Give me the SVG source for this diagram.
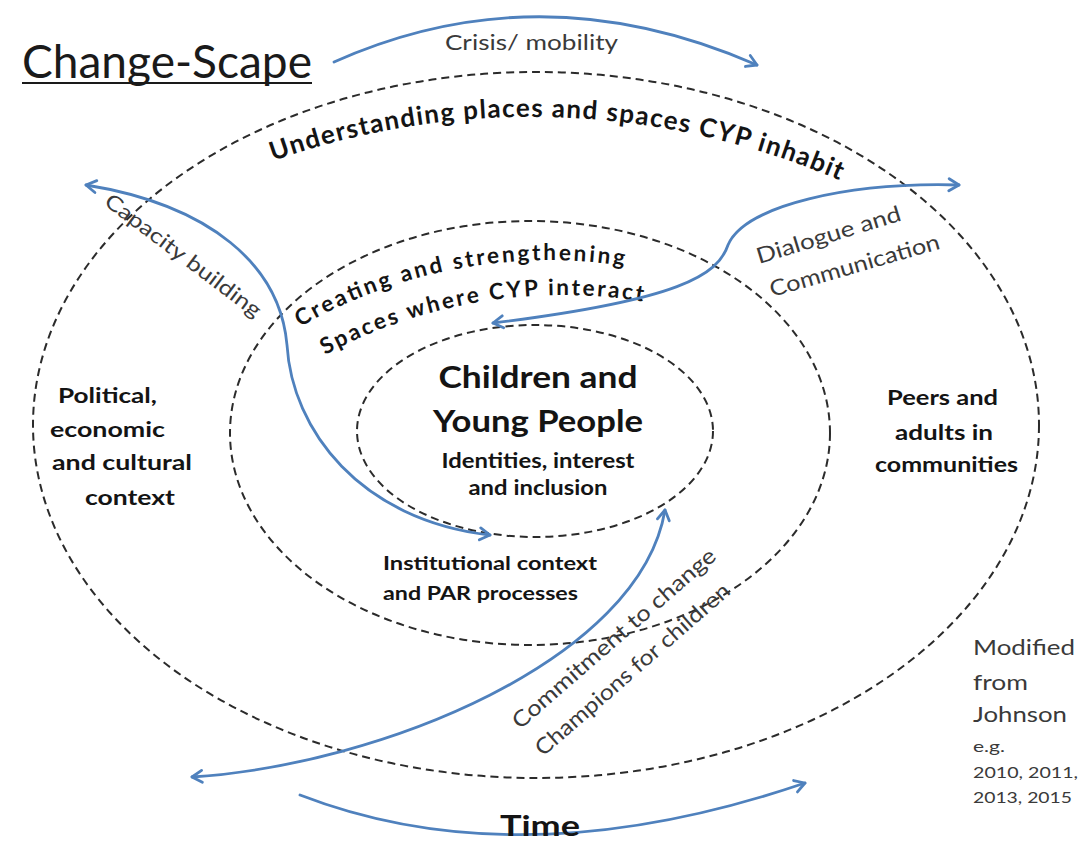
<svg xmlns="http://www.w3.org/2000/svg" width="1079" height="841" viewBox="0 0 1079 841">
<defs>
<style>
.ring{fill:none;stroke:#2b2b2b;stroke-width:2;stroke-dasharray:8 5}
.arr{fill:none;stroke:#4f81bd;stroke-width:2.8;stroke-linecap:round}
.b{font-family:Lato,"Open Sans","Liberation Sans",sans-serif;font-weight:bold;fill:#141414}
.r{font-family:Lato,"Open Sans","Liberation Sans",sans-serif;fill:#3a3a3a}
</style>
<marker id="ah" viewBox="0 0 16 16" refX="13" refY="8" markerWidth="16" markerHeight="16" markerUnits="userSpaceOnUse" orient="auto-start-reverse"><path d="M3 2 L13 8 L3 14" fill="none" stroke="#4f81bd" stroke-width="2.8" stroke-linecap="round" stroke-linejoin="round"/></marker>
<path id="p1" d="M 273 161 A 779.5 779.5 0 0 1 841 181"/>
<path id="p2" d="M 300 327 A 500 500 0 0 1 632 267"/>
<path id="p3" d="M 325 355 A 500 500 0 0 1 645 302"/>
</defs>
<rect width="1079" height="841" fill="#ffffff"/>

<g id="title">
<text class="r" x="22" y="78" font-size="46" textLength="290" lengthAdjust="spacingAndGlyphs" style="fill:#1a1a1a">Change-Scape</text>
<line x1="22" y1="83" x2="312" y2="83" stroke="#1a1a1a" stroke-width="2"/>
</g>

<g id="outer-ring">
<ellipse class="ring" cx="536" cy="425" rx="503" ry="353"/>
<text class="b" font-size="26"><textPath href="#p1" textLength="580" lengthAdjust="spacing">Understanding places and spaces CYP inhabit</textPath></text>
</g>

<g id="middle-ring">
<ellipse class="ring" cx="530" cy="433" rx="300" ry="212"/>
<text class="b" font-size="22.5"><textPath href="#p2" textLength="336" lengthAdjust="spacing">Creating and strengthening</textPath></text>
<text class="b" font-size="22.5"><textPath href="#p3" textLength="328" lengthAdjust="spacing">Spaces where CYP interact</textPath></text>
</g>

<g id="inner-ring">
<ellipse class="ring" cx="535" cy="431" rx="178" ry="106"/>
<text class="b" x="538" y="388" font-size="30" text-anchor="middle" textLength="199" lengthAdjust="spacingAndGlyphs">Children and</text>
<text class="b" x="538" y="432" font-size="31" text-anchor="middle" textLength="210" lengthAdjust="spacingAndGlyphs">Young People</text>
<text class="b" x="538" y="468" font-size="20" text-anchor="middle" textLength="193" lengthAdjust="spacingAndGlyphs">Identities, interest</text>
<text class="b" x="538" y="495" font-size="20" text-anchor="middle" textLength="139" lengthAdjust="spacingAndGlyphs">and inclusion</text>
</g>

<g id="institutional">
<text class="b" x="383" y="570" font-size="19.5" textLength="214" lengthAdjust="spacingAndGlyphs">Institutional context</text>
<text class="b" x="383" y="600" font-size="19.5" textLength="195" lengthAdjust="spacingAndGlyphs">and PAR processes</text>
</g>

<g id="political">
<text class="b" x="58" y="403" font-size="21" textLength="99" lengthAdjust="spacingAndGlyphs">Political,</text>
<text class="b" x="50" y="437" font-size="21" textLength="115" lengthAdjust="spacingAndGlyphs">economic</text>
<text class="b" x="52" y="470" font-size="21" textLength="140" lengthAdjust="spacingAndGlyphs">and cultural</text>
<text class="b" x="85" y="505" font-size="21" textLength="90" lengthAdjust="spacingAndGlyphs">context</text>
</g>

<g id="peers">
<text class="b" x="887" y="405" font-size="21" textLength="111" lengthAdjust="spacingAndGlyphs">Peers and</text>
<text class="b" x="895" y="440" font-size="21" textLength="98" lengthAdjust="spacingAndGlyphs">adults in</text>
<text class="b" x="875" y="472" font-size="21" textLength="143" lengthAdjust="spacingAndGlyphs">communities</text>
</g>

<g id="source">
<text class="r" x="973" y="655" font-size="22" textLength="102" lengthAdjust="spacingAndGlyphs">Modified</text>
<text class="r" x="973" y="690" font-size="22" textLength="55" lengthAdjust="spacingAndGlyphs">from</text>
<text class="r" x="973" y="722" font-size="22" textLength="94" lengthAdjust="spacingAndGlyphs">Johnson</text>
<text class="r" x="973" y="752" font-size="15" textLength="32" lengthAdjust="spacingAndGlyphs">e.g.</text>
<text class="r" x="973" y="778" font-size="16" textLength="105" lengthAdjust="spacingAndGlyphs">2010, 2011,</text>
<text class="r" x="973" y="803" font-size="16" textLength="99" lengthAdjust="spacingAndGlyphs">2013, 2015</text>
</g>

<g id="connectors">
<path class="arr" d="M 334 62 Q 540 -30 757 65" marker-end="url(#ah)"/>
<path class="arr" d="M 86 185 C 210 205, 280 265, 287 345 C 292 430, 360 520, 490 535" marker-start="url(#ah)" marker-end="url(#ah)"/>
<path class="arr" d="M 959 185 C 850 182, 745 205, 728 245 C 718 275, 680 300, 493 323" marker-start="url(#ah)" marker-end="url(#ah)"/>
<path class="arr" d="M 192 777 C 380 765, 640 660, 665 510" marker-start="url(#ah)" marker-end="url(#ah)"/>
<path class="arr" d="M 300 795 Q 520 880 805 783" marker-end="url(#ah)"/>
</g>

<g id="connector-labels">
<text class="r" x="445" y="50" font-size="21.5" textLength="173" lengthAdjust="spacingAndGlyphs">Crisis/ mobility</text>
<text class="r" font-size="21" transform="translate(103 204) rotate(37)" textLength="190" lengthAdjust="spacingAndGlyphs">Capacity building</text>
<text class="r" font-size="22" transform="translate(759 264) rotate(-17)" textLength="150" lengthAdjust="spacingAndGlyphs">Dialogue and</text>
<text class="r" font-size="22" transform="translate(772 297) rotate(-16)" textLength="176" lengthAdjust="spacingAndGlyphs">Communication</text>
<text class="r" font-size="22" transform="translate(520 730) rotate(-41)" textLength="262" lengthAdjust="spacingAndGlyphs">Commitment to change</text>
<text class="r" font-size="22" transform="translate(543 757) rotate(-41)" textLength="250" lengthAdjust="spacingAndGlyphs">Champions for children</text>
<text class="b" x="500" y="836" font-size="29" textLength="80" lengthAdjust="spacingAndGlyphs">Time</text>
</g>
</svg>
